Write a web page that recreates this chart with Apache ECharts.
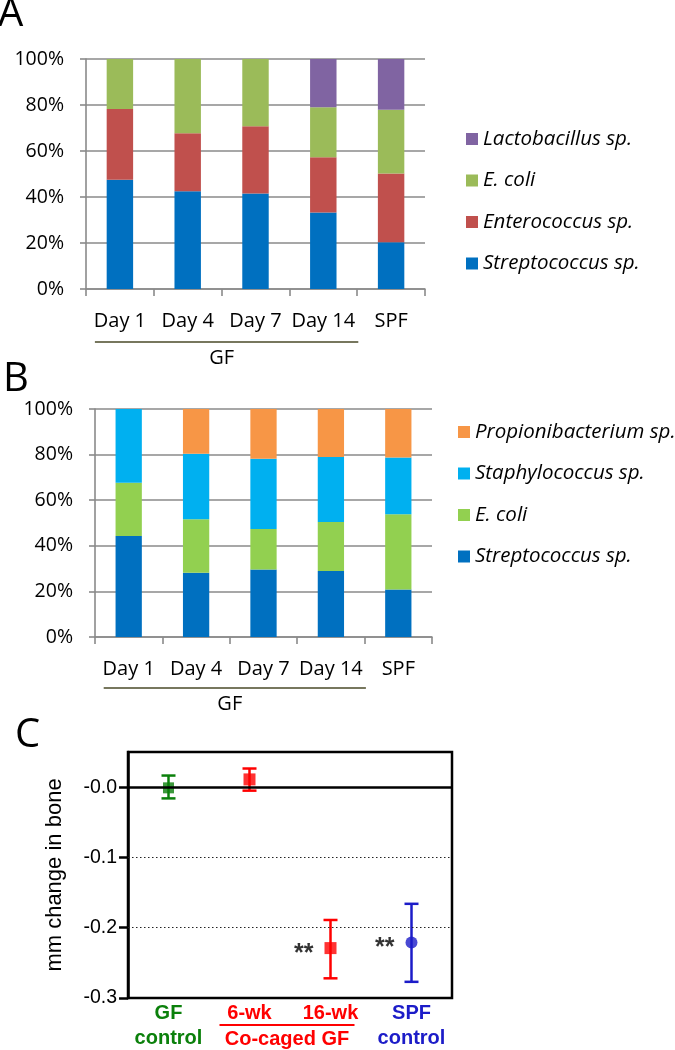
<!DOCTYPE html>
<html><head><meta charset="utf-8">
<script src="https://cdn.jsdelivr.net/npm/echarts@6/dist/echarts.min.js"></script>
<style>html,body{margin:0;padding:0;background:#fff}#c{width:675px;height:1050px}</style>
</head><body><div id="c"></div>
<script>
// ---------- data ----------
const daysAB = ['Day 1', 'Day 4', 'Day 7', 'Day 14', 'SPF'];
const yTicksAB = ['0%', '20%', '40%', '60%', '80%', '100%'];
// Panel A (% of colonies)
const aStrep  = [47.5, 42.5, 41.5, 33.3, 20.3];
const aEntero = [30.8, 25.2, 29.3, 24.0, 29.9];
const aEcoli  = [21.7, 32.3, 29.2, 21.7, 27.7];
const aLacto  = [0, 0, 0, 21.0, 22.1];
// Panel B
const bStrep  = [44.3, 28.2, 29.6, 29.0, 20.8];
const bEcoli  = [23.4, 23.4, 17.8, 21.4, 33.0];
const bStaph  = [32.3, 28.8, 30.8, 28.6, 24.9];
const bPropi  = [0, 19.6, 21.8, 21.0, 21.3];
// Panel C (mm change in bone)
const cGroups = ['GF control', '6-wk', '16-wk', 'SPF control'];
const cLabelLines = [['GF', 'control'], ['6-wk'], ['16-wk'], ['SPF', 'control']];
const cMean = [-0.001, 0.011, -0.229, -0.221];
const cLow  = [-0.016, -0.005, -0.272, -0.277];
const cHigh = [0.0165, 0.0265, -0.189, -0.166];
const cSig  = ['', '', '**', '**'];
const cTicks = [-0.3, -0.2, -0.1, 0];
const cTickLabels = ['-0.3', '-0.2', '-0.1', '-0.0'];

// ---------- style ----------
const GRAY = '#8a8a8a';
const FONT_AB = 'Open Sans';
const FONT_C = 'Liberation Sans';
const cColors = ['#0b800b', '#ff0000', '#ff0000', '#1c1cc8'];
const cSymbols = ['rect', 'rect', 'rect', 'circle'];
const cSizes = [11, 12, 12, 12];
const richKeys = ['g', 'r', 'r', 'b'];

const chart = echarts.init(document.getElementById('c'), null, {renderer: 'canvas'});

function catX(gi) {
  return {
    type: 'category', gridIndex: gi, data: daysAB, boundaryGap: true,
    axisLine: {show: true, lineStyle: {color: GRAY, width: 1.6}},
    axisTick: {show: true, length: 7, interval: 0, lineStyle: {color: GRAY, width: 1.6}},
    axisLabel: {fontSize: 20, color: '#000', fontFamily: FONT_AB, margin: 22, interval: 0}
  };
}
function pctY(gi) {
  return {
    type: 'value', gridIndex: gi, min: 0, max: 100, interval: 20,
    axisLine: {show: true, lineStyle: {color: GRAY, width: 1.6}},
    axisTick: {show: true, length: 6, lineStyle: {color: GRAY, width: 1.6}},
    splitLine: {show: true, lineStyle: {color: GRAY, width: 1.6}},
    axisLabel: {fontSize: 19.5, color: '#000', fontFamily: FONT_AB, margin: 22,
      formatter: v => yTicksAB[Math.round(v / 20)]}
  };
}
function bar(name, data, color, xi) {
  return {type: 'bar', name: name, data: data, stack: 'st' + xi, xAxisIndex: xi, yAxisIndex: xi,
    barWidth: '39%', itemStyle: {color: color}, silent: true};
}
const strip = n => n.split('|')[0];
const legText = {fontSize: 20.5, fontStyle: 'italic', fontFamily: FONT_AB, color: '#000', lineHeight: 20};

const option = {
  animation: false,
  backgroundColor: '#fff',
  grid: [
    {left: 86, top: 59, width: 339, height: 230},
    {left: 95, top: 409, width: 337, height: 228},
    {left: 128, top: 752, width: 324, height: 246, show: true, borderColor: '#000', borderWidth: 2.5}
  ],
  legend: [
    {orient: 'vertical', left: 461, top: 124, itemWidth: 12, itemHeight: 12, itemGap: 21.5, icon: 'rect',
      selectedMode: false, formatter: strip, textStyle: legText,
      data: ['Lactobacillus sp.|A', 'E. coli|A', 'Enterococcus sp.|A', 'Streptococcus sp.|A']},
    {orient: 'vertical', left: 453, top: 417, itemWidth: 12, itemHeight: 12, itemGap: 21.5, icon: 'rect',
      selectedMode: false, formatter: strip, textStyle: legText,
      data: ['Propionibacterium sp.|B', 'Staphylococcus sp.|B', 'E. coli|B', 'Streptococcus sp.|B']}
  ],
  xAxis: [
    catX(0), catX(1),
    {type: 'category', gridIndex: 2, data: cGroups, boundaryGap: true,
      axisLine: {show: false}, axisTick: {show: false},
      axisLabel: {interval: 0, margin: 3,
        formatter: (v, i) => cLabelLines[i].map(t => '{' + richKeys[i] + '|' + t + '}').join('\n'),
        rich: {
          g: {color: cColors[0], fontWeight: 'bold', fontSize: 20, lineHeight: 25, fontFamily: FONT_C},
          r: {color: cColors[1], fontWeight: 'bold', fontSize: 20, lineHeight: 25, fontFamily: FONT_C},
          b: {color: cColors[3], fontWeight: 'bold', fontSize: 20, lineHeight: 25, fontFamily: FONT_C}
        }}}
  ],
  yAxis: [
    pctY(0), pctY(1),
    {type: 'value', gridIndex: 2, min: -0.3, max: 0.05, interval: 0.1,
      name: 'mm change in bone', nameLocation: 'middle', nameRotate: 90, nameGap: 62,
      nameTextStyle: {fontSize: 22, color: '#000', fontFamily: FONT_C},
      axisLine: {show: true, lineStyle: {color: '#000', width: 2.5}},
      axisTick: {show: true, length: 9, customValues: cTicks, lineStyle: {color: '#000', width: 2.5}},
      splitLine: {show: false},
      axisLabel: {fontSize: 19.5, color: '#000', fontFamily: FONT_C, margin: 11, customValues: cTicks,
        formatter: v => {
          const k = cTicks.findIndex(t => Math.abs(t - v) < 1e-6);
          return k >= 0 ? cTickLabels[k] : '';
        }}}
  ],
  series: [
    bar('Streptococcus sp.|A', aStrep, '#0070c0', 0),
    bar('Enterococcus sp.|A', aEntero, '#c0504d', 0),
    bar('E. coli|A', aEcoli, '#9bbb59', 0),
    bar('Lactobacillus sp.|A', aLacto, '#8064a2', 0),
    bar('Streptococcus sp.|B', bStrep, '#0070c0', 1),
    bar('E. coli|B', bEcoli, '#92d050', 1),
    bar('Staphylococcus sp.|B', bStaph, '#00b0f0', 1),
    bar('Propionibacterium sp.|B', bPropi, '#f79646', 1),
    // reference lines for panel C
    {type: 'line', name: 'ref', xAxisIndex: 2, yAxisIndex: 2, data: [], z: 1, silent: true,
      markLine: {silent: true, symbol: 'none', label: {show: false}, animation: false,
        data: [
          {yAxis: 0, lineStyle: {type: 'solid', width: 2.5, color: '#000'}},
          {yAxis: -0.1, lineStyle: {type: [1.5, 2.5], width: 1.2, color: '#222'}},
          {yAxis: -0.2, lineStyle: {type: [1.5, 2.5], width: 1.2, color: '#222'}}
        ]}},
    // error bars
    {type: 'custom', name: 'err', xAxisIndex: 2, yAxisIndex: 2, z: 3, silent: true,
      data: cGroups.map((g, i) => [i, cLow[i], cHigh[i]]),
      renderItem: (params, api) => {
        const i = params.dataIndex;
        const lo = api.coord([api.value(0), api.value(1)]);
        const hi = api.coord([api.value(0), api.value(2)]);
        const hw = 7;
        const st = {stroke: cColors[i], lineWidth: 2.5};
        return {type: 'group', children: [
          {type: 'line', shape: {x1: lo[0], y1: lo[1], x2: hi[0], y2: hi[1]}, style: st},
          {type: 'line', shape: {x1: lo[0] - hw, y1: lo[1], x2: lo[0] + hw, y2: lo[1]}, style: st},
          {type: 'line', shape: {x1: hi[0] - hw, y1: hi[1], x2: hi[0] + hw, y2: hi[1]}, style: st}
        ]};
      }},
    // means
    {type: 'scatter', name: 'mean', xAxisIndex: 2, yAxisIndex: 2, z: 4, silent: true,
      data: cGroups.map((g, i) => ({
        value: [i, cMean[i]], symbol: cSymbols[i], symbolSize: cSizes[i],
        itemStyle: {color: cColors[i]},
        label: {show: cSig[i] !== '', formatter: () => cSig[i], position: 'left', distance: 11,
          fontSize: 25, fontWeight: 'bold', color: '#000', fontFamily: FONT_C, offset: [0, 6]}
      }))}
  ]
};
chart.setOption(option);

// ---------- annotations positioned from the axes ----------
function px(xi, cat) { return chart.convertToPixel({xAxisIndex: xi}, cat); }
function py(yi, v) { return chart.convertToPixel({yAxisIndex: yi}, v); }
const g = [];
const letter = (t, x, y) => ({type: 'text', x: x, y: y, silent: true,
  style: {text: t, fontSize: 40, fontFamily: FONT_AB, fill: '#000', textVerticalAlign: 'middle'}});
g.push(letter('A', -2, 15));
g.push(letter('B', 3, 380));
g.push(letter('C', 15, 736));

[[0, 53], [1, 51]].forEach(([xi, dy]) => {
  const x0 = px(xi, daysAB[0]) - 25, x1 = px(xi, daysAB[3]) + 35;
  const y = py(xi, 0) + dy;
  g.push({type: 'line', silent: true, shape: {x1: x0, y1: y, x2: x1, y2: y},
    style: {stroke: '#4a4a28', lineWidth: 1.6}});
  g.push({type: 'text', silent: true, x: (x0 + x1) / 2 - 5, y: y + 16,
    style: {text: 'GF', fontSize: 20, fontFamily: FONT_AB, fill: '#000', textAlign: 'center', textVerticalAlign: 'middle'}});
});
{
  const x0 = px(2, cGroups[1]) - 30, x1 = px(2, cGroups[2]) + 24;
  const y = py(2, -0.3) + 27;
  g.push({type: 'line', silent: true, shape: {x1: x0, y1: y, x2: x1, y2: y},
    style: {stroke: '#ff0000', lineWidth: 2}});
  g.push({type: 'text', silent: true, x: (x0 + x1) / 2, y: y + 14,
    style: {text: 'Co-caged GF', fontSize: 20, fontWeight: 'bold', fontFamily: FONT_C, fill: '#ff0000',
      textAlign: 'center', textVerticalAlign: 'middle'}});
}
chart.setOption({graphic: g});
</script>
</body></html>
